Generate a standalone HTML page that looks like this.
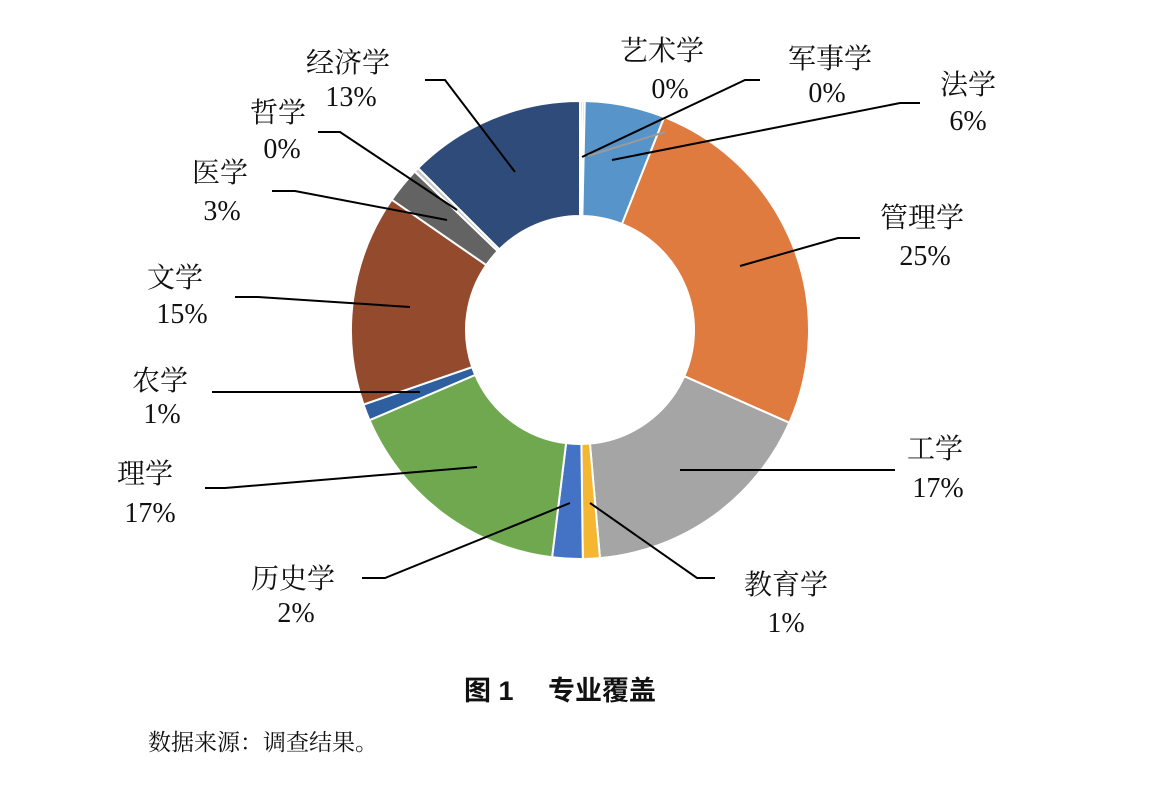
<!DOCTYPE html>
<html><head><meta charset="utf-8">
<style>
html,body{margin:0;padding:0;background:#fff;}
svg text{font-family:"Liberation Serif","Noto Serif CJK SC",serif;font-size:28px;fill:#111;text-anchor:middle;}
</style></head>
<body>
<svg id="s" width="1168" height="785" viewBox="0 0 1168 785" xmlns="http://www.w3.org/2000/svg">
<g id="pie"></g>
<g stroke="#000" stroke-width="2" fill="none">
<polyline points="760,80 745,80 582,157"/>
<polyline points="920,103 900,103 612,160"/>
<polyline points="860,238 838,238 740,266"/>
<polyline points="895,470 680,470"/>
<polyline points="715,578 697,578 590,503"/>
<polyline points="362,578 385,578 570,503"/>
<polyline points="205,488 225,488 477,467"/>
<polyline points="212,392 420,392"/>
<polyline points="235,297 258,297 410,307"/>
<polyline points="272,191 295,191 447,220"/>
<polyline points="318,132 340,132 457,210"/>
<polyline points="425,80 445,80 515,172"/>
</g>
<line x1="588" y1="156" x2="665" y2="132" stroke="#9a9a9a" stroke-width="2"/>
<text x="662" y="60">艺术学</text><text x="670" y="98">0%</text>
<text x="830" y="68">军事学</text><text x="827" y="102">0%</text>
<text x="968" y="94">法学</text><text x="968" y="130">6%</text>
<text x="922" y="227">管理学</text><text x="925" y="265">25%</text>
<text x="935" y="458">工学</text><text x="938" y="497">17%</text>
<text x="786" y="594">教育学</text><text x="786" y="632">1%</text>
<text x="293" y="588">历史学</text><text x="296" y="622">2%</text>
<text x="145" y="483">理学</text><text x="150" y="522">17%</text>
<text x="160" y="390">农学</text><text x="162" y="423">1%</text>
<text x="175" y="287">文学</text><text x="182" y="323">15%</text>
<text x="220" y="182">医学</text><text x="222" y="220">3%</text>
<text x="278" y="122">哲学</text><text x="282" y="158">0%</text>
<text x="348" y="72">经济学</text><text x="351" y="106">13%</text>
<text x="560" y="700" style="font-weight:bold;font-family:'Liberation Sans','Noto Sans CJK SC',sans-serif;font-size:27px">图 1　 专业覆盖</text>
<text x="148" y="750" style="text-anchor:start;font-size:23px">数据来源：调查结果。</text>
</svg>
<script>
var cx=580,cy=330,R=229,r=114;
var sl=[[0,0.6,"#5694c9"],[0.6,1.2,"#a5a5a5"],[1.2,21.6,"#5694c9"],[21.6,113.9,"#e07b40"],[113.9,175,"#a5a5a5"],[175,179.3,"#f5b731"],[179.3,187,"#4472c4"],[187,246.8,"#70a84f"],[246.8,251,"#2e5f9f"],[251,304.7,"#944a2c"],[304.7,313.8,"#636363"],[313.8,315,"#c8c8c8"],[315,360,"#2e4b7a"]];
function p(a,rad){a=a*Math.PI/180;return [cx+rad*Math.sin(a),cy-rad*Math.cos(a)];}
var g=document.getElementById("pie"),h="";
sl.forEach(function(s){var a=s[0],b=s[1],l=(b-a)>180?1:0;var p1=p(a,R),p2=p(b,R),p3=p(b,r),p4=p(a,r);
h+='<path d="M'+p1+' A'+R+','+R+' 0 '+l+' 1 '+p2+' L'+p3+' A'+r+','+r+' 0 '+l+' 0 '+p4+' Z" fill="'+s[2]+'" stroke="#fff" stroke-width="2"/>';});
g.innerHTML=h;
</script>
</body></html>
